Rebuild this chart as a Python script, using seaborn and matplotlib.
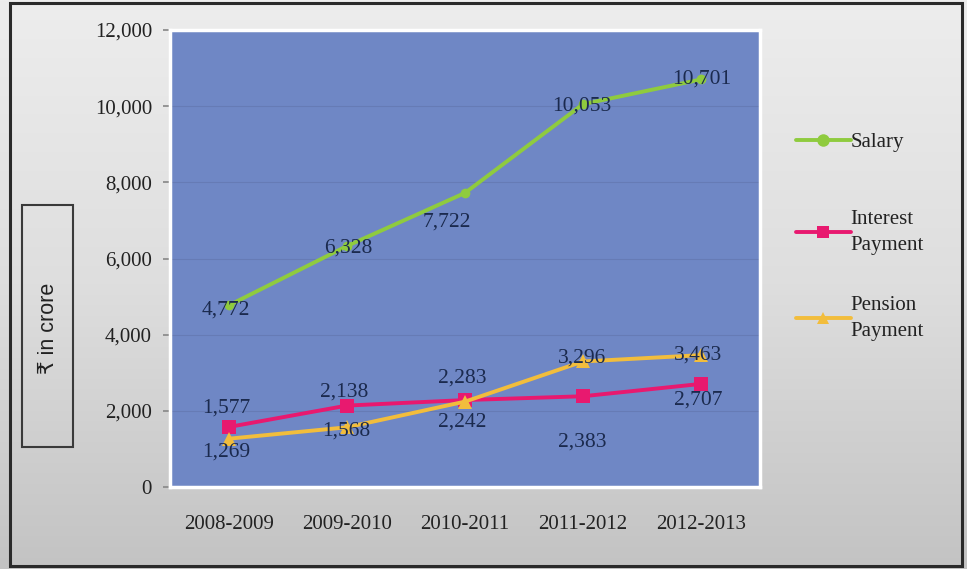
import numpy as np
import pandas as pd
import matplotlib
matplotlib.use("Agg")
import matplotlib.pyplot as plt
from matplotlib.patches import Rectangle
from matplotlib.colors import LinearSegmentedColormap
import seaborn as sns

# ---- data ----
years = ["2008-2009", "2009-2010", "2010-2011", "2011-2012", "2012-2013"]
salary = [4772, 6328, 7722, 10053, 10701]
interest = [1577, 2138, 2283, 2383, 2707]
pension = [1269, 1568, 2242, 3296, 3463]
series_names = ["Salary", "Interest\nPayment", "Pension\nPayment"]
yticks = [0, 2000, 4000, 6000, 8000, 10000, 12000]

# ---- styles ----
colors = ["#8fcb3e", "#e8196f", "#f2bd3c"]
markers = ["o", "s", "^"]
msizes = [7, 10, 10]
# label offsets in pixels (dx, dy) for each series / point
offsets = [
    [(-3, -5), (1, -2), (-18, -29), (-1, -2), (1, 0)],
    [(-3, 19), (-3, 14), (-3, 22), (-1, -46), (-3, -16)],
    [(-3, -13), (-1, -4), (-3, -20), (-1, 3), (-3, 0)],
]

sns.set_theme(style="white")
plt.rcParams["font.family"] = ["Liberation Serif", "DejaVu Serif"]

fig = plt.figure(figsize=(9.67, 5.69), dpi=100)
W, H = 967, 569

# background gradient
bg = fig.add_axes([0, 0, 1, 1], zorder=-10)
grad = np.linspace(0, 1, 256).reshape(-1, 1)
cmap = LinearSegmentedColormap.from_list("g", ["#ededed", "#dedede", "#c3c3c3"])
bg.imshow(grad, aspect="auto", cmap=cmap, extent=[0, 1, 0, 1], origin="upper")
bg.set_xlim(0, 1); bg.set_ylim(0, 1)
bg.axis("off")
# outer border
bg.add_patch(Rectangle((10 / W, 3 / H), 952 / W, 563 / H, fill=False,
                       edgecolor="#2a2a2a", linewidth=2.2, transform=bg.transAxes))
# y-label box
bg.add_patch(Rectangle((22 / W, 1 - 447 / H), 51 / W, 242 / H, fill=False,
                       edgecolor="#3a3a3a", linewidth=1.5, transform=bg.transAxes))
bg.text(48 / W, 1 - 328 / H, "₹ in crore", rotation=90, ha="center", va="center",
        fontsize=15.5, color="#222222", family=["Liberation Sans", "DejaVu Sans"],
        transform=bg.transAxes)

ax = fig.add_axes([170 / W, 1 - 487 / H, 590 / W, 457 / H])
ax.set_facecolor("#6f87c5")

df = pd.DataFrame({
    "year": years * 3,
    "value": salary + interest + pension,
    "series": [series_names[0]] * 5 + [series_names[1]] * 5 + [series_names[2]] * 5,
})

sns.lineplot(data=df, x="year", y="value", hue="series", style="series",
             palette=colors, markers=markers, dashes=False, linewidth=2.8,
             markersize=9, markeredgewidth=0, ax=ax, sort=False, legend=True)

for ln, ms in zip(ax.get_lines()[:3], msizes):
    ln.set_markersize(ms)

# data labels
for vals, offs in zip([salary, interest, pension], offsets):
    for i, (v, (dx, dy)) in enumerate(zip(vals, offs)):
        ax.annotate(f"{v:,}", (i, v), xytext=(dx * 0.72, dy * 0.72),
                    textcoords="offset points", ha="center", va="center",
                    fontsize=15.5, color="#1b2a4e", zorder=5)

ax.set_xlim(-0.5, 4.5)
ax.set_ylim(0, 12000)
ax.set_yticks(yticks)
ax.set_yticklabels([f"{t:,}" for t in yticks], fontsize=15, color="#222222")
ax.set_xticks(range(5))
ax.set_xticklabels(years, fontsize=15, color="#222222")
ax.set_xticks([-0.5, 0.5, 1.5, 2.5, 3.5, 4.5], minor=True)
ax.tick_params(axis="x", which="major", length=0, pad=20)
ax.tick_params(axis="x", which="minor", length=4, color="#8a8a8a", direction="out")
ax.tick_params(axis="y", length=5, color="#8a8a8a", direction="out", pad=8, left=True)
ax.set_xlabel("")
ax.set_ylabel("")
ax.grid(axis="y", color="#667bb5", linewidth=0.8)
ax.set_axisbelow(True)
for s in ax.spines.values():
    s.set_color("white")
    s.set_linewidth(2.5)

# legend (two groups to match the uneven spacing of the original)
handles, labels = ax.get_legend_handles_labels()
ax.get_legend().remove()
leg_kw = dict(loc="upper left", frameon=False, fontsize=15, handlelength=2.6,
              handletextpad=0.0, borderaxespad=0)
leg1 = fig.legend(handles[:1], labels[:1],
                  bbox_to_anchor=(788 / W, 1 - 124 / H), **leg_kw)
leg2 = fig.legend(handles[1:], labels[1:], labelspacing=2.0,
                  bbox_to_anchor=(788 / W, 1 - 202 / H), **leg_kw)
for lg in (leg1, leg2):
    for t in lg.get_texts():
        t.set_color("#222222")
        t.set_linespacing(1.45)

fig.savefig("out.png", dpi=100)
